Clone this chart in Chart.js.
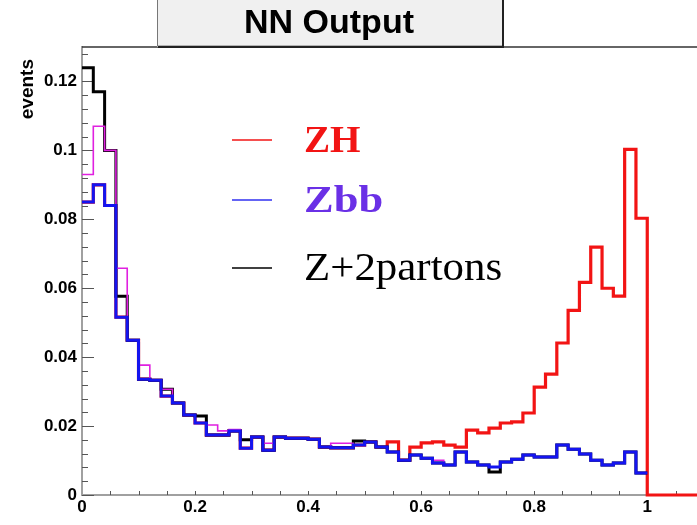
<!DOCTYPE html>
<html>
<head>
<meta charset="utf-8">
<script src="https://cdn.jsdelivr.net/npm/chart.js@4.4.1/dist/chart.umd.min.js"></script>
<style>
  html, body { margin: 0; padding: 0; background: #fff; }
  #wrap { width: 697px; height: 525px; }
</style>
</head>
<body>
<div id="wrap"><canvas id="nnChart" width="697" height="525"></canvas></div>
<script>
// histogram binning of the NN output (bins of 0.02)
const binWidth = 0.02;
const xTickLabels = ['0', '0.2', '0.4', '0.6', '0.8', '1'];
const yTickLabels = ['0', '0.02', '0.04', '0.06', '0.08', '0.1', '0.12'];
const legendLabels = ['ZH', 'Zbb', 'Z+2partons'];

const zh = [
  0.085, 0.090, 0.084, 0.0516, 0.0449, 0.0336, 0.0333, 0.0287, 0.0267, 0.0232,
  0.0209, 0.0174, 0.0174, 0.0186, 0.0136, 0.0168, 0.0130, 0.0168, 0.0165, 0.0165,
  0.0162, 0.0139, 0.0137, 0.0137, 0.0145, 0.0154, 0.0139, 0.0154, 0.0101, 0.0139,
  0.0151, 0.0154, 0.0145, 0.0139, 0.0188, 0.0180, 0.0194, 0.0209, 0.0212, 0.0238,
  0.0313, 0.0351, 0.0441, 0.0536, 0.0617, 0.0719, 0.0600, 0.0577, 0.1003, 0.0803,
  0, 0, 0, 0, 0
];
const zbb = [
  0.085, 0.090, 0.084, 0.0516, 0.0449, 0.0336, 0.0333, 0.0287, 0.0267, 0.0232,
  0.0209, 0.0174, 0.0174, 0.0186, 0.0136, 0.0168, 0.0130, 0.0168, 0.0165, 0.0165,
  0.0162, 0.0139, 0.0137, 0.0137, 0.0145, 0.0154, 0.0139, 0.0125, 0.0101, 0.0116,
  0.0107, 0.0093, 0.0087, 0.0125, 0.0096, 0.0087, 0.0081, 0.0096, 0.0104, 0.0116,
  0.0110, 0.0110, 0.0145, 0.0133, 0.0119, 0.0101, 0.0087, 0.0093, 0.0125, 0.0064
];
const zPartons = [
  0.124, 0.117, 0.100, 0.0577, 0.0449, 0.0336, 0.0333, 0.0307, 0.0267, 0.0232,
  0.0229, 0.0174, 0.0174, 0.0186, 0.0160, 0.0168, 0.0130, 0.0168, 0.0165, 0.0165,
  0.0162, 0.0139, 0.0137, 0.0137, 0.0157, 0.0154, 0.0139, 0.0125, 0.0101, 0.0116,
  0.0107, 0.0093, 0.0087, 0.0125, 0.0096, 0.0087, 0.0067, 0.0096, 0.0104, 0.0116,
  0.0110, 0.0110, 0.0145, 0.0133, 0.0119, 0.0101, 0.0087, 0.0093, 0.0125, 0.0064
];
// unlabelled magenta histogram
const zbbAlt = [
  0.093, 0.107, 0.100, 0.0658, 0.0449, 0.0377, 0.0333, 0.0307, 0.0267, 0.0232,
  0.0209, 0.0203, 0.0186, 0.0190, 0.0136, 0.0168, 0.0150, 0.0168, 0.0165, 0.0165,
  0.0162, 0.0139, 0.0150, 0.0150, 0.0145, 0.0154, 0.0139, 0.0125, 0.0101, 0.0116,
  0.0107, 0.0101, 0.0087, 0.0125, 0.0096, 0.0087, 0.0081, 0.0096, 0.0104, 0.0116,
  0.0110, 0.0110, 0.0145, 0.0133, 0.0119, 0.0101, 0.0087, 0.0093, 0.0125, 0.0064
];

const RED = '#f21414';
const BLUE = '#1414f0';
const MAGENTA = '#e020e0';

// bin contents -> step outline points at the bin edges
function toSteps(values) {
  const pts = values.map((v, i) => ({ x: i * binWidth, y: v }));
  pts.push({ x: values.length * binWidth, y: values[values.length - 1] });
  return pts;
}

function fmt(v) {
  return String(parseFloat(Number(v).toFixed(2)));
}

const decorations = {
  id: 'decorations',
  beforeDatasetsDraw(chart) {
    const { ctx, chartArea, scales } = chart;
    ctx.save();
    ctx.strokeStyle = '#555';
    ctx.lineWidth = 1;
    // inward ticks on y axis
    for (let i = 0; i <= 32; i++) {
      const y = Math.round(scales.y.getPixelForValue(i * 0.004)) + 0.5;
      const len = (i % 5 === 0) ? 12 : 6;
      ctx.beginPath();
      ctx.moveTo(chartArea.left, y);
      ctx.lineTo(chartArea.left + len, y);
      ctx.stroke();
    }
    // small ticks on x axis
    for (let i = 1; i <= 21; i++) {
      const x = Math.round(scales.x.getPixelForValue(i * 0.05)) + 0.5;
      ctx.beginPath();
      ctx.moveTo(x, chartArea.bottom);
      ctx.lineTo(x, chartArea.bottom - 4);
      ctx.stroke();
    }
    ctx.restore();
  },
  afterDraw(chart) {
    const { ctx, chartArea } = chart;
    ctx.save();
    // top frame line
    ctx.strokeStyle = '#333';
    ctx.lineWidth = 1.5;
    ctx.beginPath();
    ctx.moveTo(chartArea.left, chartArea.top);
    ctx.lineTo(chartArea.right, chartArea.top);
    ctx.stroke();

    // title box
    ctx.fillStyle = '#f0f0f0';
    ctx.fillRect(157, -2, 346, 49);
    ctx.strokeStyle = '#777';
    ctx.lineWidth = 1;
    ctx.strokeRect(157.5, -2, 345, 48);
    ctx.strokeStyle = '#222';
    ctx.lineWidth = 2;
    ctx.beginPath();
    ctx.moveTo(158, 47);
    ctx.lineTo(503, 47);
    ctx.lineTo(503, -2);
    ctx.stroke();
    ctx.fillStyle = '#000';
    ctx.font = 'bold 34px "Liberation Sans", Arial, sans-serif';
    ctx.textAlign = 'center';
    ctx.textBaseline = 'middle';
    ctx.fillText('NN Output', 329, 24);

    // y axis title
    ctx.save();
    ctx.translate(33, 59);
    ctx.rotate(-Math.PI / 2);
    ctx.font = 'bold 19px "Liberation Sans", Arial, sans-serif';
    ctx.textAlign = 'right';
    ctx.textBaseline = 'alphabetic';
    ctx.fillText('events', 0, 0);
    ctx.restore();

    // legend
    const serif = '"Liberation Serif", "Times New Roman", serif';
    const entries = [
      { label: legendLabels[0], line: RED, text: RED, font: 'bold 38px ' + serif, y: 140, sx: 1.03 },
      { label: legendLabels[1], line: '#3030f0', text: '#6a30e6', font: 'bold 38px ' + serif, y: 200, sx: 1.17 },
      { label: legendLabels[2], line: '#000', text: '#000', font: '39px ' + serif, y: 268, sx: 1.1 }
    ];
    entries.forEach((e) => {
      ctx.strokeStyle = e.line;
      ctx.lineWidth = 1.5;
      ctx.beginPath();
      ctx.moveTo(232, e.y);
      ctx.lineTo(272, e.y);
      ctx.stroke();
      ctx.save();
      ctx.translate(304, e.y + 2);
      ctx.scale(e.sx, 1);
      ctx.fillStyle = e.text;
      ctx.font = e.font;
      ctx.textAlign = 'left';
      ctx.textBaseline = 'middle';
      ctx.fillText(e.label, 0, 0);
      ctx.restore();
    });
    ctx.restore();
  }
};

new Chart(document.getElementById('nnChart'), {
  type: 'line',
  data: {
    datasets: [
      { label: legendLabels[1], data: toSteps(zbb), borderColor: BLUE, borderWidth: 3, order: 1 },
      { label: 'Zbb (alt)', data: toSteps(zbbAlt), borderColor: MAGENTA, borderWidth: 1.6, order: 2 },
      { label: legendLabels[2], data: toSteps(zPartons), borderColor: '#000', borderWidth: 3, order: 3 },
      { label: legendLabels[0], data: toSteps(zh), borderColor: RED, borderWidth: 3.2, order: 4 }
    ].map((d) => Object.assign(d, { stepped: 'before', pointRadius: 0, fill: false, clip: false }))
  },
  options: {
    responsive: false,
    animation: false,
    layout: { padding: { top: 47, right: 0, left: 0, bottom: 0 } },
    plugins: { legend: { display: false }, tooltip: { enabled: false } },
    scales: {
      x: {
        type: 'linear',
        min: 0,
        max: 1.088,
        afterFit: (s) => { s.height = 30; },
        grid: { drawOnChartArea: false, drawTicks: false },
        border: { color: '#a0a0a0', width: 2 },
        ticks: {
          stepSize: 0.2,
          includeBounds: false,
          padding: 2,
          color: '#000',
          font: { family: '"Liberation Sans", Arial, sans-serif', size: 17, weight: 'bold' },
          maxRotation: 0,
          autoSkip: false,
          callback: (v) => xTickLabels.includes(fmt(v)) ? fmt(v) : ''
        }
      },
      y: {
        min: 0,
        max: 0.13,
        afterFit: (s) => { s.width = 82; },
        grid: { drawOnChartArea: false, drawTicks: false },
        border: { color: '#a0a0a0', width: 2 },
        ticks: {
          stepSize: 0.02,
          includeBounds: false,
          padding: 5,
          color: '#000',
          font: { family: '"Liberation Sans", Arial, sans-serif', size: 17, weight: 'bold' },
          callback: (v) => yTickLabels.includes(fmt(v)) ? fmt(v) : ''
        }
      }
    }
  },
  plugins: [decorations]
});
</script>
</body>
</html>
